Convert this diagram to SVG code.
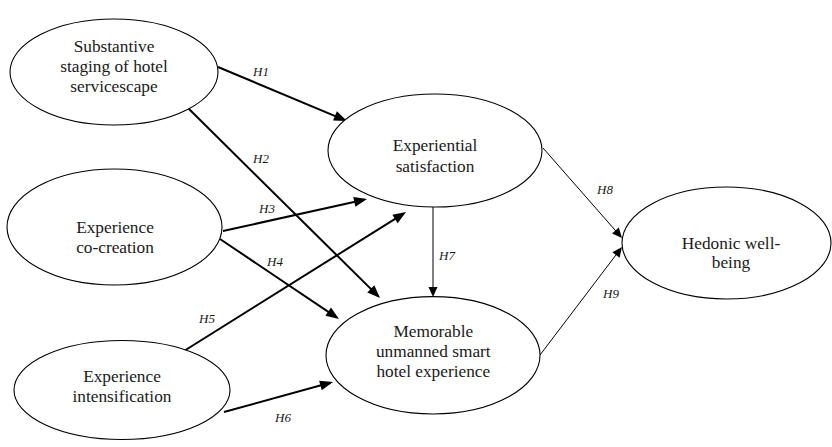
<svg xmlns="http://www.w3.org/2000/svg" width="832" height="447" viewBox="0 0 832 447">
  <style>
    .node ellipse { fill: #ffffff; stroke: #000000; stroke-width: 1.1; }
    .node text { font-size: 17.3px; fill: #1a1a1a; text-anchor: middle; }
    .thick { stroke: #000000; stroke-width: 2; fill: none; marker-end: url(#headBig); }
    .thin { stroke: #000000; stroke-width: 1; fill: none; marker-end: url(#headSmall); }
    .lbl { font-size: 13px; font-style: italic; fill: #1a1a1a; text-anchor: middle; }
  </style>
  <defs>
    <marker id="headBig" markerUnits="userSpaceOnUse" markerWidth="13" markerHeight="10" refX="10" refY="5" orient="auto" overflow="visible">
      <path d="M0,0 L13,5 L0,10 Z" fill="#000000"/>
    </marker>
    <marker id="headSmall" markerUnits="userSpaceOnUse" markerWidth="10" markerHeight="9" refX="8" refY="4.5" orient="auto" overflow="visible">
      <path d="M0,0 L10,4.5 L0,9 Z" fill="#000000"/>
    </marker>
  </defs>

  <rect width="832" height="447" fill="#ffffff"/>

  <g font-family="Liberation Serif, Tinos, DejaVu Serif, serif">
  <!-- paths between constructs -->
  <g id="connectors">
    <line class="thick" x1="218" y1="67" x2="344.2" y2="119.8"/>
    <line class="thick" x1="188" y1="108" x2="377.9" y2="295.9"/>
    <line class="thick" x1="223" y1="231" x2="364.1" y2="199.7"/>
    <line class="thick" x1="220" y1="239" x2="336.5" y2="317.3"/>
    <line class="thick" x1="184" y1="351" x2="403.5" y2="213.6"/>
    <line class="thick" x1="224" y1="412" x2="330.1" y2="382.8"/>
    <line class="thin" x1="433" y1="207" x2="433" y2="295"/>
    <line class="thin" x1="543" y1="148" x2="620.7" y2="236.5"/>
    <line class="thin" x1="540" y1="355" x2="620.8" y2="248.6"/>

    <text class="lbl" x="261" y="76">H1</text>
    <text class="lbl" x="261" y="163">H2</text>
    <text class="lbl" x="267" y="213">H3</text>
    <text class="lbl" x="275" y="266">H4</text>
    <text class="lbl" x="207" y="323">H5</text>
    <text class="lbl" x="283" y="422">H6</text>
    <text class="lbl" x="447" y="260">H7</text>
    <text class="lbl" x="605" y="194">H8</text>
    <text class="lbl" x="611" y="298">H9</text>
  </g>

  <g id="staging" class="node">
    <ellipse cx="114" cy="72" rx="104" ry="53"/>
    <text x="114" y="51.7">Substantive</text>
    <text x="114" y="72">staging of hotel</text>
    <text x="114" y="92">servicescape</text>
  </g>

  <g id="cocreation" class="node">
    <ellipse cx="114.5" cy="227" rx="107.5" ry="58"/>
    <text x="115" y="232.7">Experience</text>
    <text x="115" y="252.7">co-creation</text>
  </g>

  <g id="intensification" class="node">
    <ellipse cx="122" cy="390" rx="108" ry="49.5"/>
    <text x="122" y="381.7">Experience</text>
    <text x="122" y="401.7">intensification</text>
  </g>

  <g id="satisfaction" class="node">
    <ellipse cx="435" cy="150.5" rx="107" ry="56.5"/>
    <text x="435" y="151">Experiential</text>
    <text x="435" y="172">satisfaction</text>
  </g>

  <g id="memorable" class="node">
    <ellipse cx="433" cy="355.3" rx="107" ry="58.7"/>
    <text x="433.3" y="337.3">Memorable</text>
    <text x="433.3" y="357.3">unmanned smart</text>
    <text x="433.3" y="377.3">hotel experience</text>
  </g>

  <g id="wellbeing" class="node">
    <ellipse cx="726.5" cy="243" rx="104.5" ry="56"/>
    <text x="731" y="249">Hedonic well-</text>
    <text x="731" y="268.3">being</text>
  </g>
  </g>
</svg>
